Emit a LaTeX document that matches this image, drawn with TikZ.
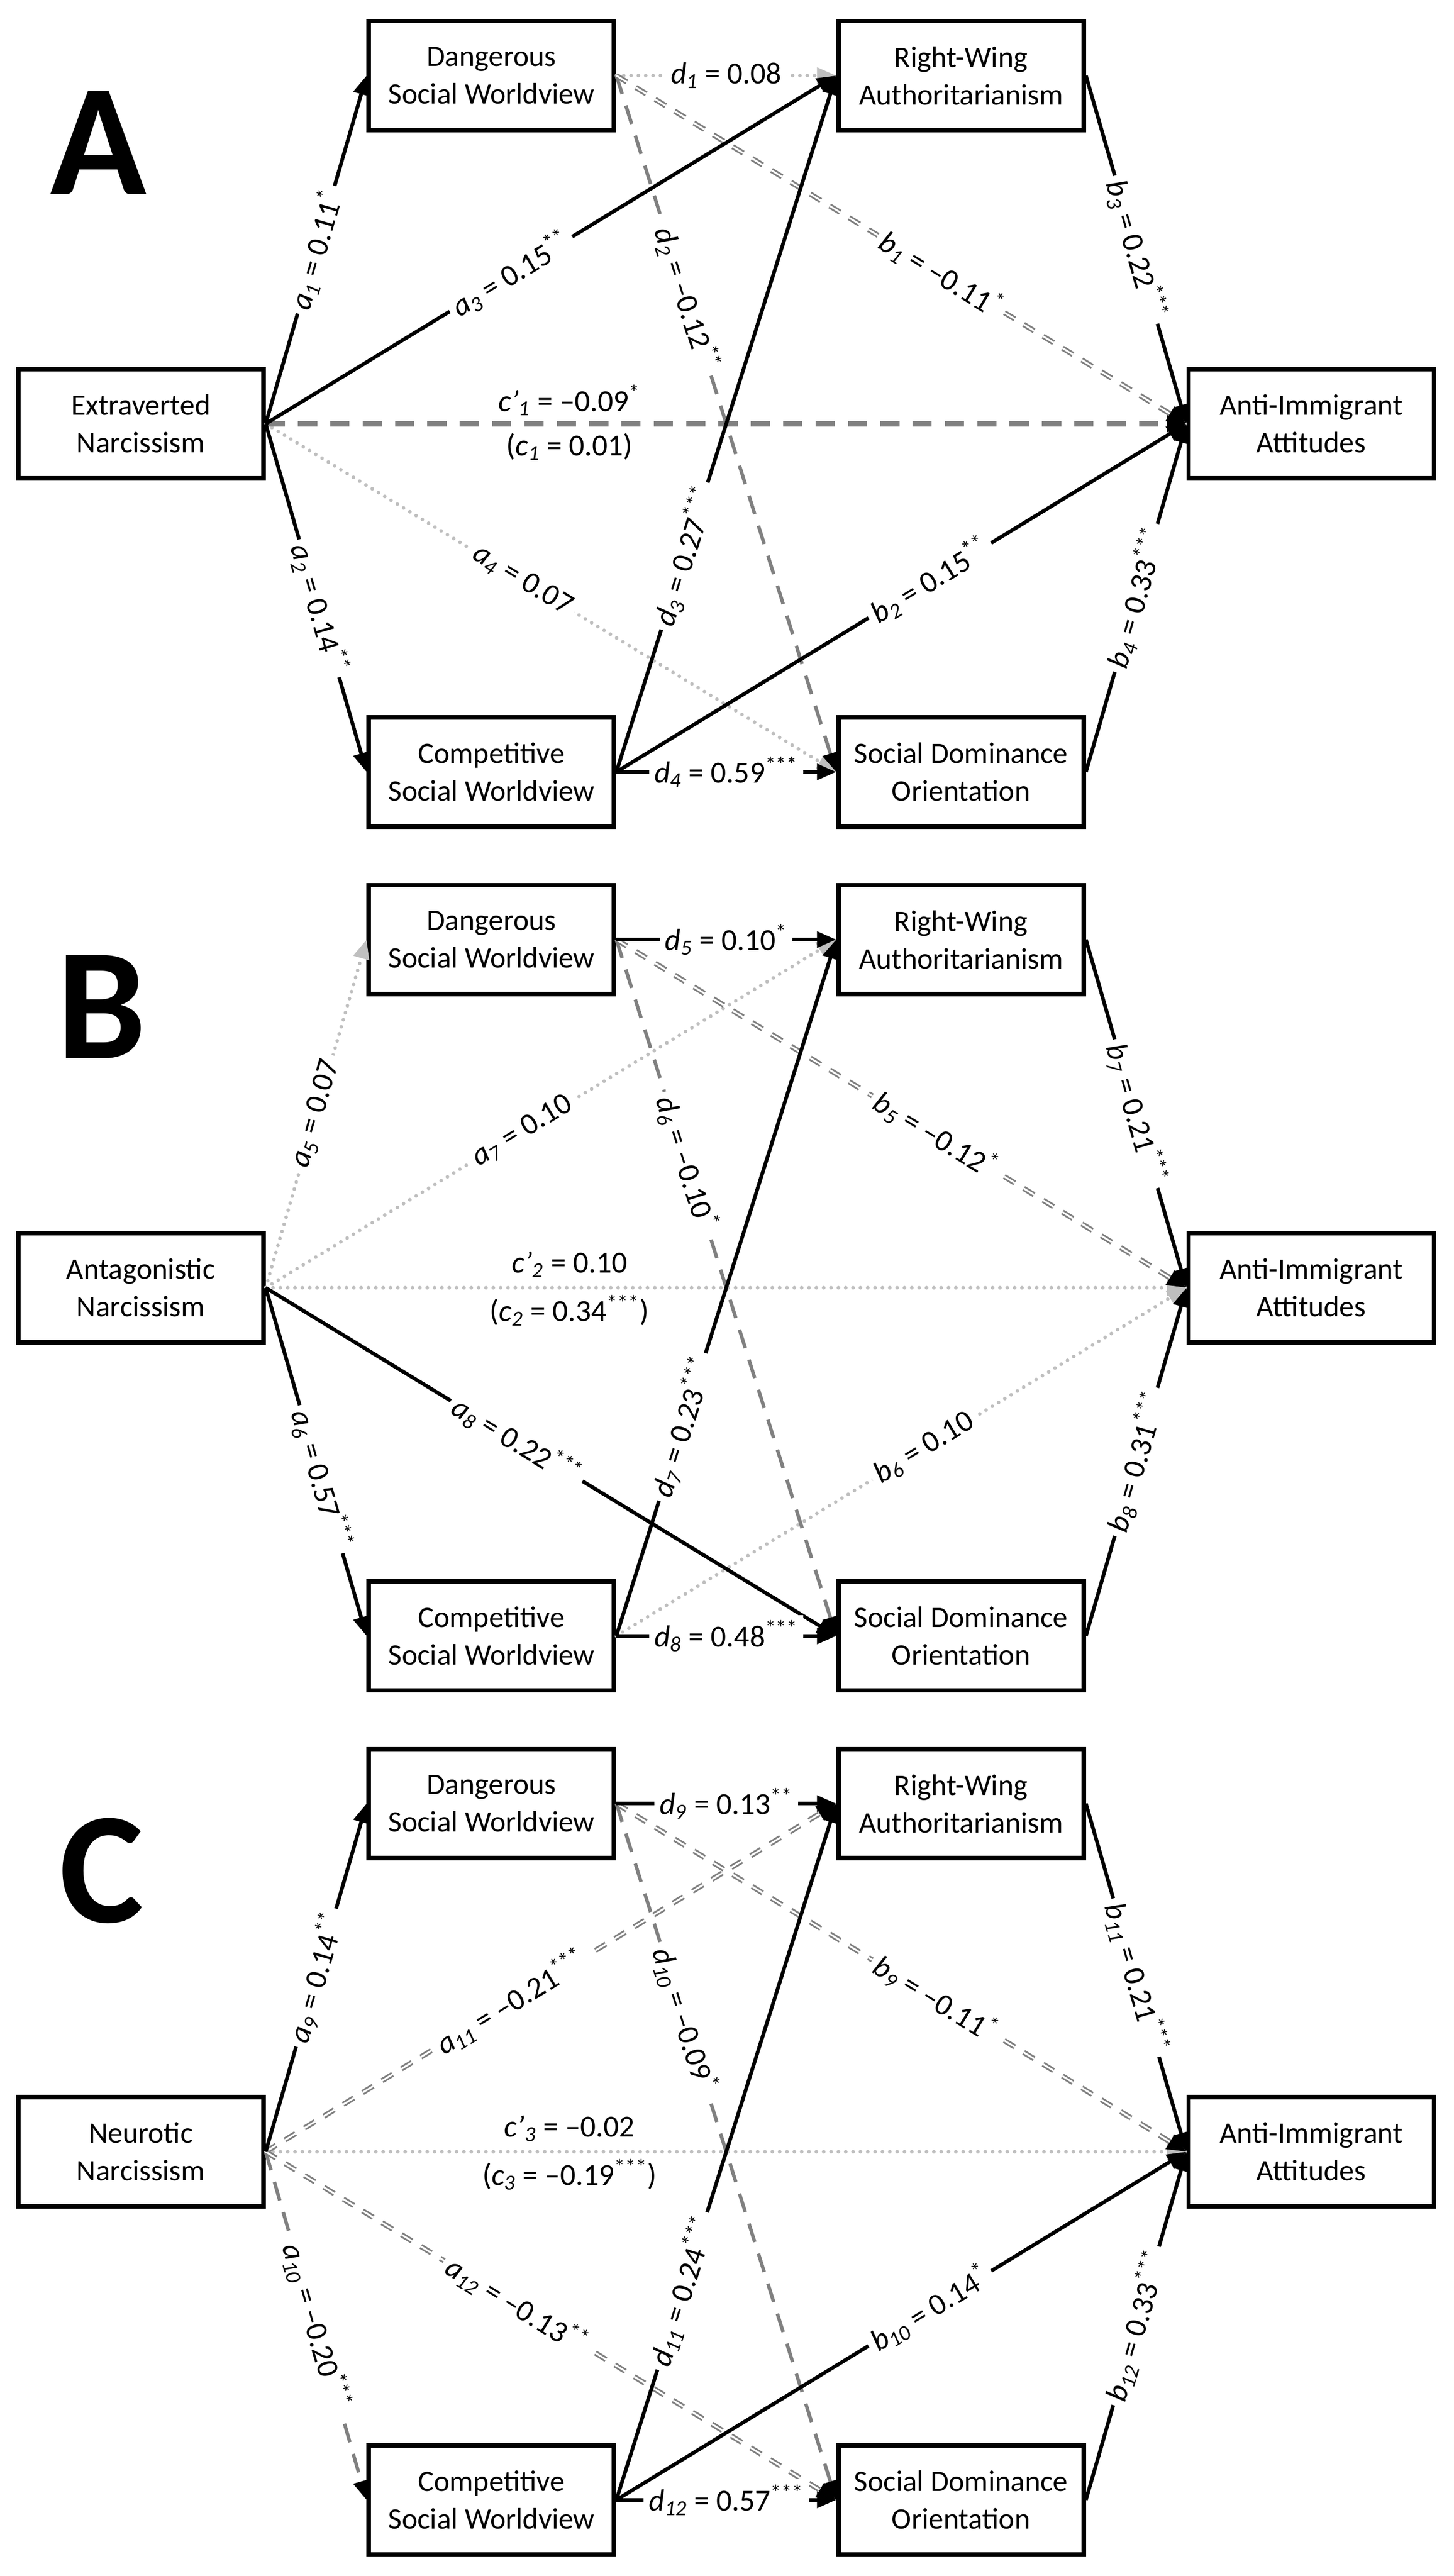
\documentclass[tikz,border=0pt]{standalone}
\usepackage{fontspec}
\setmainfont{Carlito}
\usetikzlibrary{arrows.meta,positioning}
\definecolor{dotgray}{RGB}{191,191,191}
\definecolor{dashgray}{RGB}{128,128,128}
\newcommand{\pth}[3]{\textit{#1}\textsubscript{\textit{#2}} = #3}
\newcommand{\sig}[1]{\textsuperscript{#1}}
\tikzstyle{var} = [rectangle, draw=black, line width=2.6pt, minimum width=4.93cm, minimum height=2.19cm, align=center, font=\fontsize{17}{21.5}\selectfont]
\tikzstyle{panel} = [inner sep=0pt, font=\fontsize{91}{91}\selectfont\bfseries]
\tikzstyle{coef} = [sloped, fill=white, inner sep=3pt, font=\fontsize{17.5}{21.5}\selectfont]
\tikzstyle{total} = [font=\fontsize{17.5}{21.5}\selectfont]
\tikzstyle{arrow} = [line width=2.1pt, -{Triangle[length=11pt,width=9pt]}]
\tikzstyle{ns} = [arrow, draw=dotgray, line cap=round, dash pattern=on 0pt off 4.2pt]
\tikzstyle{neg} = [line width=2pt, draw=dashgray, dash pattern=on 11pt off 7pt, -{Triangle[length=11pt,width=9pt,color=black]}]
\tikzstyle{negdbl} = [line width=3pt, draw=dashgray, dash pattern=on 7pt off 6pt, -{Triangle[length=11pt,width=9pt,color=black]}, postaction={draw=white, line width=1pt, -, shorten >=11pt}]
\tikzstyle{negbold} = [line width=3.4pt, draw=dashgray, dash pattern=on 11pt off 7.5pt, -{Triangle[length=11pt,width=9pt,color=black]}]

\begin{document}
\begin{tikzpicture}[on grid]
\useasboundingbox (0,0) rectangle (29.22,-51.79);

% panel A
\node (xA) [var] at (2.83,-8.52) {Extraverted\\Narcissism};
\node (dswA) [var, above right=7cm and 7.05cm of xA] {Dangerous\\Social Worldview};
\node (cswA) [var, below right=7cm and 7.05cm of xA] {Competitive\\Social Worldview};
\node (rwaA) [var, right=9.44cm of dswA] {Right-Wing\\Authoritarianism};
\node (sdoA) [var, right=9.44cm of cswA] {Social Dominance\\Orientation};
\node (aiaA) [var, below right=7cm and 7.04cm of rwaA] {Anti-Immigrant\\Attitudes};
\node (labA) [panel] at (1.98,-2.87) {A};

\draw [ns] (xA.east) -- node[coef, pos=0.45] {\pth{a}{4}{0.07}} (sdoA.west);
\draw [ns] (dswA.east) -- node[coef] {\pth{d}{1}{0.08}} (rwaA.west);
\draw [negbold] (xA.east) -- node[total, pos=0.33, yshift=0.47cm] {\pth{c’}{1}{–0.09\sig{*}}} node[total, pos=0.33, yshift=-0.46cm] {(\pth{c}{1}{0.01})} (aiaA.west);
\draw [neg] (dswA.east) -- node[coef, pos=0.32] {\pth{d}{2}{–0.12\sig{**}}} (sdoA.west);
\draw [negdbl] (dswA.east) -- node[coef, pos=0.57] {\pth{b}{1}{–0.11\sig{*}}} (aiaA.west);
\draw [arrow] (xA.east) -- node[coef] {\pth{a}{1}{0.11\sig{*}}} (dswA.west);
\draw [arrow] (xA.east) -- node[coef, pos=0.53] {\pth{a}{2}{0.14\sig{**}}} (cswA.west);
\draw [arrow] (xA.east) -- node[coef, pos=0.43] {\pth{a}{3}{0.15\sig{**}}} (rwaA.west);
\draw [arrow] (cswA.east) -- node[coef, pos=0.31] {\pth{d}{3}{0.27\sig{***}}} (rwaA.west);
\draw [arrow] (cswA.east) -- node[coef] {\pth{d}{4}{0.59\sig{***}}} (sdoA.west);
\draw [arrow] (cswA.east) -- node[coef, pos=0.55] {\pth{b}{2}{0.15\sig{**}}} (aiaA.west);
\draw [arrow] (rwaA.east) -- node[coef] {\pth{b}{3}{0.22\sig{***}}} (aiaA.west);
\draw [arrow] (sdoA.east) -- node[coef] {\pth{b}{4}{0.33\sig{***}}} (aiaA.west);

% panel B
\node (xB) [var, below=17.37cm of xA] {Antagonistic\\Narcissism};
\node (dswB) [var, above right=7cm and 7.05cm of xB] {Dangerous\\Social Worldview};
\node (cswB) [var, below right=7cm and 7.05cm of xB] {Competitive\\Social Worldview};
\node (rwaB) [var, right=9.44cm of dswB] {Right-Wing\\Authoritarianism};
\node (sdoB) [var, right=9.44cm of cswB] {Social Dominance\\Orientation};
\node (aiaB) [var, below right=7cm and 7.04cm of rwaB] {Anti-Immigrant\\Attitudes};
\node (labB) [panel] at (2.04,-20.24) {B};

\draw [ns] (xB.east) -- node[coef] {\pth{a}{5}{0.07}} (dswB.west);
\draw [ns] (xB.east) -- node[coef, pos=0.45] {\pth{a}{7}{0.10}} (rwaB.west);
\draw [ns] (xB.east) -- node[total, pos=0.33, yshift=0.47cm] {\pth{c’}{2}{0.10}} node[total, pos=0.33, yshift=-0.46cm] {(\pth{c}{2}{0.34\sig{***}})} (aiaB.west);
\draw [ns] (cswB.east) -- node[coef, pos=0.54] {\pth{b}{6}{0.10}} (aiaB.west);
\draw [neg] (dswB.east) -- node[coef, pos=0.32] {\pth{d}{6}{–0.10\sig{*}}} (sdoB.west);
\draw [negdbl] (dswB.east) -- node[coef, pos=0.56] {\pth{b}{5}{–0.12\sig{*}}} (aiaB.west);
\draw [arrow] (xB.east) -- node[coef, pos=0.55] {\pth{a}{6}{0.57\sig{***}}} (cswB.west);
\draw [arrow] (xB.east) -- node[coef, pos=0.44] {\pth{a}{8}{0.22\sig{***}}} (sdoB.west);
\draw [arrow] (dswB.east) -- node[coef] {\pth{d}{5}{0.10\sig{*}}} (rwaB.west);
\draw [arrow] (cswB.east) -- node[coef, pos=0.3] {\pth{d}{7}{0.23\sig{***}}} (rwaB.west);
\draw [arrow] (cswB.east) -- node[coef] {\pth{d}{8}{0.48\sig{***}}} (sdoB.west);
\draw [arrow] (rwaB.east) -- node[coef] {\pth{b}{7}{0.21\sig{***}}} (aiaB.west);
\draw [arrow] (sdoB.east) -- node[coef] {\pth{b}{8}{0.31\sig{***}}} (aiaB.west);

% panel C
\node (xC) [var, below=17.37cm of xB] {Neurotic\\Narcissism};
\node (dswC) [var, above right=7cm and 7.05cm of xC] {Dangerous\\Social Worldview};
\node (cswC) [var, below right=7cm and 7.05cm of xC] {Competitive\\Social Worldview};
\node (rwaC) [var, right=9.44cm of dswC] {Right-Wing\\Authoritarianism};
\node (sdoC) [var, right=9.44cm of cswC] {Social Dominance\\Orientation};
\node (aiaC) [var, below right=7cm and 7.04cm of rwaC] {Anti-Immigrant\\Attitudes};
\node (labC) [panel] at (2.04,-37.61) {C};

\draw [ns] (xC.east) -- node[total, pos=0.33, yshift=0.47cm] {\pth{c’}{3}{–0.02}} node[total, pos=0.33, yshift=-0.46cm] {(\pth{c}{3}{–0.19\sig{***}})} (aiaC.west);
\draw [neg] (xC.east) -- node[coef] {\pth{a}{10}{–0.20\sig{***}}} (cswC.west);
\draw [neg] (dswC.east) -- node[coef, pos=0.31] {\pth{d}{10}{–0.09\sig{*}}} (sdoC.west);
\draw [negdbl] (xC.east) -- node[coef, pos=0.43] {\pth{a}{11}{–0.21\sig{***}}} (rwaC.west);
\draw [negdbl] (xC.east) -- node[coef, pos=0.44] {\pth{a}{12}{–0.13\sig{**}}} (sdoC.west);
\draw [negdbl] (dswC.east) -- node[coef, pos=0.56] {\pth{b}{9}{–0.11\sig{*}}} (aiaC.west);
\draw [arrow] (xC.east) -- node[coef] {\pth{a}{9}{0.14\sig{**}}} (dswC.west);
\draw [arrow] (dswC.east) -- node[coef] {\pth{d}{9}{0.13\sig{**}}} (rwaC.west);
\draw [arrow] (cswC.east) -- node[coef, pos=0.3] {\pth{d}{11}{0.24\sig{***}}} (rwaC.west);
\draw [arrow] (cswC.east) -- node[coef] {\pth{d}{12}{0.57\sig{***}}} (sdoC.west);
\draw [arrow] (cswC.east) -- node[coef, pos=0.55] {\pth{b}{10}{0.14\sig{*}}} (aiaC.west);
\draw [arrow] (rwaC.east) -- node[coef] {\pth{b}{11}{0.21\sig{***}}} (aiaC.west);
\draw [arrow] (sdoC.east) -- node[coef] {\pth{b}{12}{0.33\sig{***}}} (aiaC.west);

\end{tikzpicture}
\end{document}
